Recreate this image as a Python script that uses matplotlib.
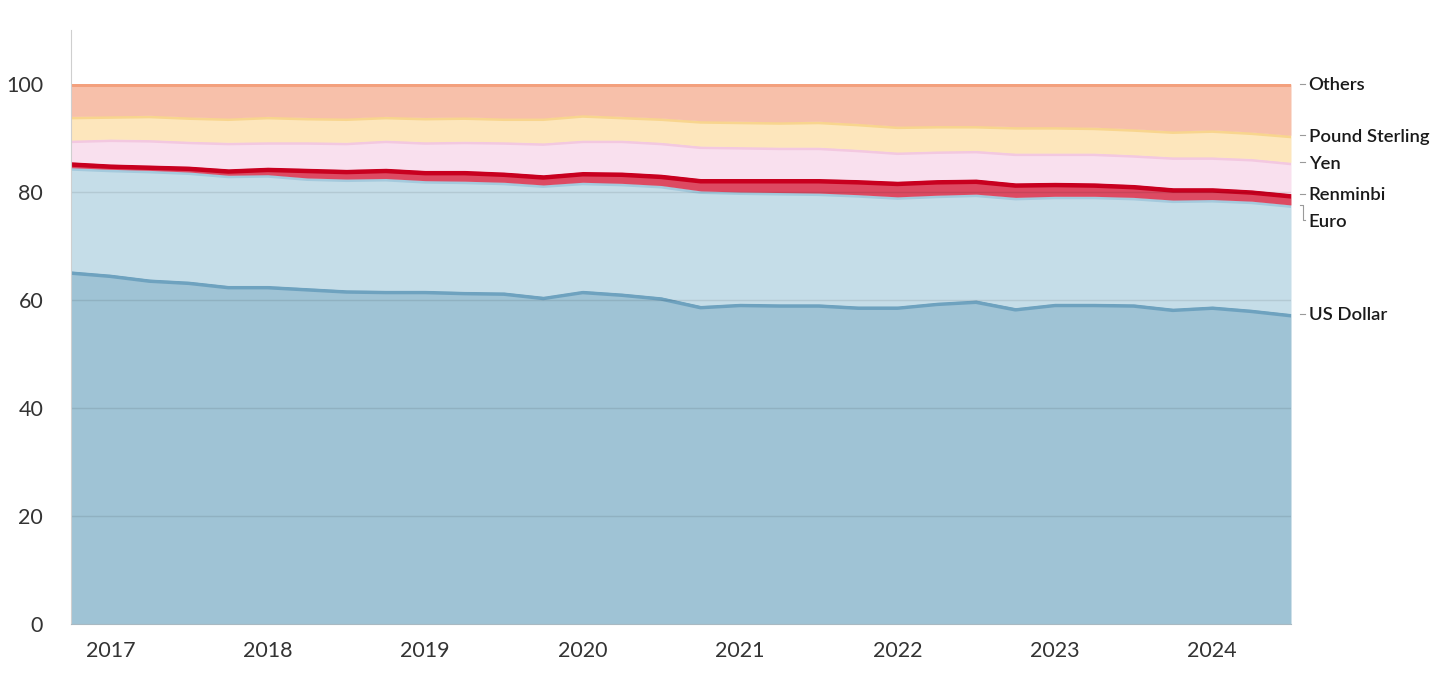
import numpy as np
import matplotlib
matplotlib.use("Agg")
import matplotlib.pyplot as plt

# Share of allocated FX reserves (%), quarterly 2016Q4 - 2024Q3
quarters = ["2016Q4",
            "2017Q1", "2017Q2", "2017Q3", "2017Q4",
            "2018Q1", "2018Q2", "2018Q3", "2018Q4",
            "2019Q1", "2019Q2", "2019Q3", "2019Q4",
            "2020Q1", "2020Q2", "2020Q3", "2020Q4",
            "2021Q1", "2021Q2", "2021Q3", "2021Q4",
            "2022Q1", "2022Q2", "2022Q3", "2022Q4",
            "2023Q1", "2023Q2", "2023Q3", "2023Q4",
            "2024Q1", "2024Q2", "2024Q3"]

usd = [65.4, 64.8, 63.9, 63.5, 62.7, 62.7, 62.3, 61.9, 61.8, 61.8, 61.6, 61.5,
       60.7, 61.8, 61.3, 60.6, 59.0, 59.4, 59.3, 59.3, 58.9, 58.9, 59.6, 60.0,
       58.6, 59.4, 59.4, 59.3, 58.5, 58.9, 58.3, 57.5]
eur = [19.1, 19.4, 20.1, 20.2, 20.4, 20.5, 20.3, 20.5, 20.7, 20.3, 20.4, 20.3,
       20.6, 20.0, 20.3, 20.6, 21.2, 20.6, 20.6, 20.5, 20.6, 20.2, 19.8, 19.6,
       20.4, 19.8, 19.8, 19.7, 20.0, 19.7, 20.0, 20.1]
cny = [1.1, 1.0, 1.0, 1.1, 1.2, 1.4, 1.8, 1.8, 1.9, 1.9, 2.0, 1.9,
       1.9, 2.0, 2.1, 2.1, 2.3, 2.5, 2.6, 2.7, 2.8, 2.9, 2.9, 2.8,
       2.7, 2.6, 2.5, 2.4, 2.3, 2.2, 2.1, 2.1]
jpy = [4.0, 4.6, 4.7, 4.6, 4.9, 4.7, 4.9, 5.0, 5.2, 5.3, 5.4, 5.6,
       5.9, 5.8, 5.9, 5.9, 6.0, 5.9, 5.8, 5.8, 5.6, 5.4, 5.3, 5.3,
       5.5, 5.4, 5.5, 5.5, 5.7, 5.7, 5.8, 5.8]
gbp = [4.4, 4.3, 4.5, 4.5, 4.5, 4.7, 4.5, 4.5, 4.4, 4.5, 4.5, 4.4,
       4.6, 4.7, 4.4, 4.5, 4.7, 4.7, 4.7, 4.8, 4.8, 4.8, 4.7, 4.6,
       4.9, 4.9, 4.8, 4.8, 4.8, 5.0, 4.9, 5.0]

names = ["US Dollar", "Euro", "Renminbi", "Yen", "Pound Sterling", "Others"]
year_labels = ["2017", "2018", "2019", "2020", "2021", "2022", "2023", "2024"]

fills = ["#9fc3d5", "#c5dde8", "#dd4a62", "#f9e0ee", "#fde6bc", "#f7c0aa"]
edges = ["#6ea2bf", "#a4cadd", "#c8001f", "#f3c8e0", "#f8d58e", "#f3a07d"]
edge_px = [4, 3, 5, 3, 3, 3]

plt.rcParams["font.family"] = ["Lato", "DejaVu Sans"]

x = np.arange(len(quarters))
shares = np.array([usd, eur, cny, jpy, gbp])
others = 100 - shares.sum(0)
shares = np.vstack([shares, others])
tops = np.cumsum(shares, axis=0)

fig = plt.figure(figsize=(14.56, 6.79), dpi=100)
ax = fig.add_axes([71 / 1456, 1 - 624 / 679, (1291 - 71) / 1456, (624 - 30) / 679])

bottom = np.zeros(len(x))
for k in range(len(names)):
    poly = ax.fill_between(x, bottom, tops[k], color=fills[k], lw=0, zorder=1 + k)
    # edge line along the top of each band, clipped so it sits inside the band
    ln, = ax.plot(x, tops[k], color=edges[k], lw=edge_px[k] * 2 * 0.72,
                  solid_joinstyle="round", zorder=1 + k)
    ln.set_clip_path(poly.get_paths()[0], ax.transData)
    bottom = tops[k]

for g in [20, 40, 60, 80]:
    ax.axhline(g, color="#000000", alpha=0.09, lw=1, zorder=20)

ax.set_xlim(0, len(x) - 1)
ax.set_ylim(0, 110)
ax.set_yticks([0, 20, 40, 60, 80, 100])
ax.set_xticks([quarters.index(y + "Q1") for y in year_labels])
ax.set_xticklabels(year_labels)
ax.tick_params(axis="both", length=0, labelsize=15.5, colors="#333333")
ax.tick_params(axis="y", pad=20)
ax.tick_params(axis="x", pad=12)
for s in ["top", "right"]:
    ax.spines[s].set_visible(False)
ax.spines["left"].set_color("#cfcfcf")
ax.spines["bottom"].set_color("#a9b9c2")
ax.spines["left"].set_zorder(30)
ax.spines["bottom"].set_zorder(30)

# end labels, pushed apart where they collide
ends = tops[::-1, -1].copy()
lab = ends.copy()
for i in range(1, len(lab)):
    if lab[i] > lab[i - 1] - 4.9:
        lab[i] = lab[i - 1] - 4.9
xe = len(x) - 1
for name, yv, yl in zip(names[::-1], ends, lab):
    ax.plot([xe + 0.22, xe + 0.3, xe + 0.3, xe + 0.36],
            [yv, yv, yl, yl] if abs(yv - yl) > 0.3 else [yl] * 4,
            color="#9a9a9a", lw=0.8, clip_on=False)
    ax.text(xe + 0.45, yl, name, fontsize=13.3, fontweight="semibold",
            color="#1a1a1a", va="center_baseline", ha="left", clip_on=False)

fig.savefig("out.png", dpi=100)
